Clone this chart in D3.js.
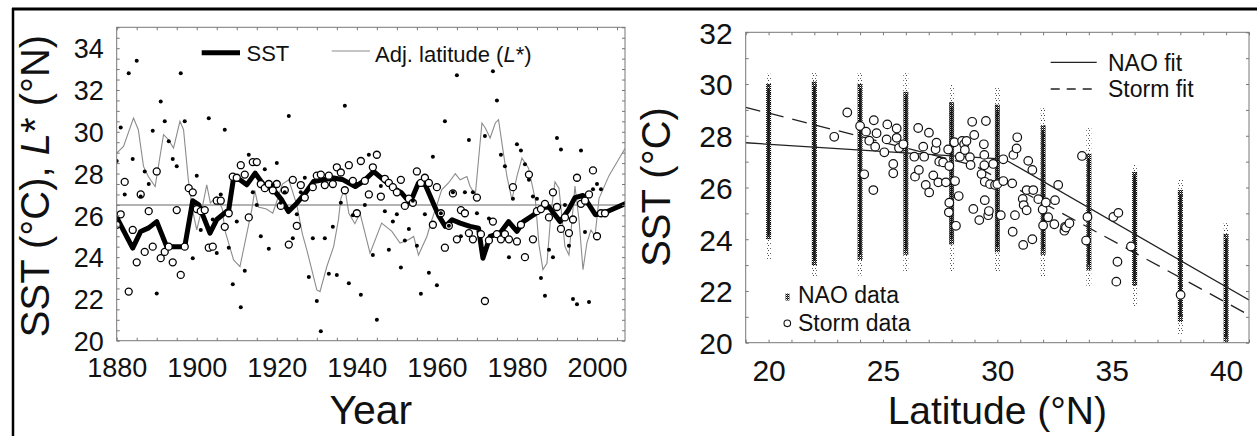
<!DOCTYPE html>
<html><head><meta charset="utf-8">
<script src="https://cdn.jsdelivr.net/npm/d3@7"></script>
<style>
body{margin:0;background:#fff;}
svg{display:block;font-family:"Liberation Sans",Arial,Helvetica,sans-serif;}
</style>
</head><body>
<svg id="c" width="1257" height="436"></svg>
<script>
// ================= LEFT PANEL DATA =================
const leftXTicks = [1880, 1900, 1920, 1940, 1960, 1980, 2000];
const leftYTicks = [20, 22, 24, 26, 28, 30, 32, 34];
const refLevel = 26.5;

// smoothed SST (thick line): [year, SST]
const sstLine = [[1880,25.9],[1884,24.43],[1886,25.23],[1888,25.4],[1890,25.7],[1892.5,24.5],[1897,24.5],[1899,26.7],[1900.5,26.5],
[1903.3,25.15],[1905,25.8],[1908,26.27],[1909.2,27.79],[1910.8,27.7],[1912.5,27.46],[1914.6,28.02],[1916.7,27.46],[1919.2,27.22],
[1921.2,26.75],[1922.9,26.18],[1925,26.58],[1927.1,27.06],[1929.2,27.62],[1931.6,27.7],[1934.2,27.79],[1936.6,27.7],[1939.6,27.38],
[1941.6,27.62],[1944.2,28.1],[1946.7,27.7],[1949.2,27.3],[1951.2,27.07],[1953.3,26.59],[1955.4,27.55],[1957.1,27.46],[1960.4,26.0],
[1962.1,25.47],[1963.8,25.79],[1965.8,25.63],[1968.3,25.47],[1970.4,25.39],[1971.5,23.95],[1973.3,24.99],[1975.8,25.15],[1977.9,25.7],
[1980,25.23],[1981.6,25.7],[1984.2,26.03],[1986.2,26.35],[1987.9,26.42],[1990.8,25.7],[1992.9,26.27],[1994.5,26.85],[1996.5,26.95],
[1999.6,26.03],[2001.6,26.1],[2007,26.55]];

// adjusted latitude L* (thin grey line): [year, degN]
const adjLatLine = [[1880,28.98],[1881.7,29.3],[1884.2,30.66],[1885.4,30.1],[1886.7,28.34],[1887.9,27.86],[1889.6,27.38],[1891.7,29.86],
[1892.9,29.62],[1894.2,29.22],[1895.8,30.5],[1896.7,30.1],[1897.9,27.7],[1899,26.2],[1900,25.3],[1901.4,26.4],[1902.5,27.46],[1903.4,26.6],
[1905,26.9],[1906.4,26.3],[1907,25.3],[1909.2,23.87],[1910.8,23.55],[1913.75,26.27],[1914.5,27.2],[1915.4,26.4],[1917.4,26.3],[1919,26.1],
[1920.4,26.9],[1921.4,27.5],[1923,27.7],[1925,26.5],[1926.4,25.1],[1927.5,24.35],[1930,22.43],[1930.8,22.35],[1932.5,23.55],[1934.2,24.5],
[1935.4,25.79],[1936,26.8],[1937,27.3],[1938,26.1],[1939.5,25.6],[1940.8,26.1],[1943.3,24.19],[1946.2,25.63],[1948.75,25.23],[1950.8,24.67],
[1952.9,24.83],[1954.2,24.99],[1955.4,24.1],[1957.5,24.99],[1958.75,25.79],[1960,26.5],[1961.2,27.22],[1962.9,27.55],[1964.6,28.0],
[1965.8,27.7],[1967.5,27.86],[1968.3,27.38],[1969.6,26.98],[1971.25,30.42],[1972.1,30.18],[1973.3,29.7],[1974.6,30.42],[1975.4,30.58],
[1976.25,29.46],[1977.5,27.86],[1978.75,26.74],[1980,27.86],[1981.25,28.74],[1982.9,28.26],[1984.6,26.74],[1985.5,24.6],[1986.5,23.4],
[1987.5,23.7],[1988.5,26.1],[1989.5,27.6],[1990.5,27.3],[1992,24.5],[1993,24.1],[1994.5,27.4],[1995.5,25.8],[1996.5,23.4],[1997.5,24.7],
[1998.5,25.3],[1999.5,25.0],[2000.5,26.8],[2003,27.9],[2007,29.2]];

// storm latitude (filled dots): [year, degN]
const stormLatDots = [[1880,28.6],[1881,30.2],[1882,27.0],[1883,32.8],[1884,28.7],[1885,33.4],[1886,26.9],[1887,28.1],[1888,27.5],[1889,30.05],
[1890,22.26],[1891,31.45],[1892,30.5],[1893,29.55],[1894,28.7],[1895,28.35],[1896,32.8],[1897,30.5],[1899,23.95],[1900,27.9],
[1901,25.3],[1903,30.65],[1904,25.8],[1905,24.2],[1906,27.0],[1907,30.1],[1908,24.45],[1909,22.7],[1910,25.7],[1911,21.6],
[1912,23.35],[1913,28.9],[1914,27.1],[1915,26.5],[1916,25.0],[1917,28.2],[1918,24.4],[1919,27.45],[1920,28.5],[1921,26.6],
[1922,27.1],[1923,30.75],[1924,24.9],[1925,26.05],[1926,27.1],[1927,27.8],[1928,23.05],[1929,24.9],[1930,21.9],[1931,20.45],
[1932,24.9],[1933,23.2],[1934,25.45],[1935,23.15],[1936,26.6],[1937,31.25],[1938,22.75],[1939,26.0],[1940,27.5],[1941,22.2],
[1942,26.5],[1943,28.9],[1944,24.1],[1945,21.0],[1946,27.4],[1947,26.2],[1948,24.35],[1949,25.7],[1950,26.05],[1951,23.5],
[1952,24.8],[1953,25.35],[1954,26.7],[1955,24.55],[1956,22.25],[1957,26.05],[1958,23.25],[1959,28.8],[1960,22.65],[1961,26.1],
[1962,30.5],[1963,25.5],[1964,27.1],[1965,32.7],[1966,25.0],[1967,27.1],[1968,29.6],[1969,27.1],[1970,26.1],[1972,29.8],
[1973,25.85],[1974,32.9],[1975,31.5],[1976,28.9],[1977,28.35],[1978,24.0],[1979,26.8],[1980,29.4],[1981,29.1],[1982,28.45],
[1983,27.7],[1984,26.9],[1985,26.8],[1986,23.0],[1987,22.15],[1988,24.35],[1989,24.0],[1990,29.7],[1991,29.15],[1992,26.5],
[1993,24.55],[1994,22.0],[1995,21.75],[1996,29.1],[1997,25.2],[1998,21.85],[1999,27.25],[2000,27.5],[2001,27.25]];

// storm SST (open circles): [year, degC]
const stormSSTCircles = [[1880,25.55],[1881,26.05],[1882,27.6],[1883,22.35],[1884,25.3],[1885,23.75],[1886,27.0],[1887,24.25],[1888,26.2],
[1889,24.5],[1890,28.1],[1891,23.95],[1892,24.25],[1893,24.5],[1894,23.75],[1895,26.25],[1896,23.15],[1897,24.5],[1898,27.3],[1899,27.1],
[1900,26.3],[1901,26.2],[1902,26.25],[1903,24.45],[1904,24.5],[1905,26.7],[1906,26.7],[1907,25.45],[1908,26.1],[1909,27.85],[1910,27.8],
[1911,28.4],[1912,27.95],[1913,25.9],[1914,28.55],[1915,28.55],[1916,27.5],[1917,27.3],[1918,27.5],[1919,27.2],[1920,27.5],[1921,26.45],
[1922,27.2],[1923,24.6],[1924,27.7],[1925,25.5],[1926,27.45],[1927,26.85],[1929,27.35],[1930,27.9],[1931,27.95],[1932,27.45],[1933,27.9],
[1934,27.5],[1935,28.3],[1936,28.05],[1937,27.2],[1938,28.4],[1939,27.65],[1940,26.1],[1941,28.6],[1942,27.65],[1943,27.0],[1944,28.3],
[1945,28.9],[1946,26.9],[1947,27.75],[1948,27.55],[1949,27.35],[1950,27.1],[1951,27.7],[1952,26.45],[1953,26.8],[1954,26.6],[1955,28.1],
[1956,27.55],[1957,27.8],[1958,27.55],[1959,25.55],[1960,27.35],[1961,26.1],[1962,24.45],[1963,25.5],[1964,27.05],[1965,24.85],[1966,26.25],
[1967,26.1],[1968,25.15],[1969,24.85],[1970,26.85],[1971,25.1],[1972,21.9],[1973,24.8],[1974,25.7],[1975,25.1],[1976,24.85],[1977,25.1],
[1978,24.85],[1979,27.35],[1980,24.75],[1981,25.55],[1982,24.0],[1983,27.95],[1984,24.85],[1985,26.2],[1986,26.3],[1987,26.55],[1988,25.9],
[1989,27.1],[1990,26.4],[1991,25.35],[1992,25.9],[1993,25.15],[1994,25.8],[1995,27.8],[1996,26.55],[1997,26.7],[1998,27.0],[1999,28.15],
[2000,25.0],[2001,26.1],[2002,26.1]];

// ================= RIGHT PANEL DATA =================
const rightXTicks = [20, 25, 30, 35, 40];
const rightYTicks = [20, 22, 24, 26, 28, 30, 32];

// NAO data columns (range of the dense point clouds at each latitude)
const naoLat    = [20, 22, 24, 26, 28, 30, 32, 34, 36, 38, 40];
const naoMax    = [30.4, 30.5, 30.5, 30.5, 30.0, 29.9, 29.1, 28.3, 26.9, 26.3, 24.7];
const naoCoreHi = [30.0, 30.1, 30.0, 29.7, 29.3, 29.2, 28.4, 27.3, 26.6, 25.9, 24.2];
const naoCoreLo = [24.0, 23.0, 23.2, 23.4, 23.8, 23.5, 23.4, 22.8, 22.2, 20.8, 20.0];
const naoMin    = [23.2, 22.5, 22.6, 22.7, 22.7, 22.7, 22.5, 22.2, 21.4, 20.3, 20.0];

// storm data: [latitude, SST]
const stormPoints = [[22.87,27.96],[23.44,28.9],[24.0,28.38],[24.26,28.16],[24.4,27.81],[24.6,28.6],[24.72,28.1],[24.66,27.58],[24.18,26.51],
[24.58,25.9],[25.06,27.36],[25.16,27.86],[25.19,28.44],[25.45,26.91],[25.45,26.55],[25.6,28.28],[25.6,27.92],[25.7,27.53],[25.89,27.67],
[26.37,27.19],[26.4,26.42],[26.54,28.3],[26.57,26.68],[26.76,27.58],[26.8,27.19],[26.87,26.1],[27.01,28.12],[27.02,25.81],[27.2,26.47],
[27.3,27.48],[27.34,27.73],[27.42,26.2],[27.46,27.0],[27.63,26.97],[27.75,26.2],[27.85,27.47],[27.9,26.83],[27.9,25.41],[27.88,25.04],
[28.19,24.52],[28.12,27.75],[28.15,26.25],[28.31,25.67],[28.36,27.19],[28.46,27.8],[28.55,27.67],[28.58,27.45],[28.65,27.8],[28.8,27.17],
[28.83,26.87],[28.9,28.54],[28.99,28.03],[28.95,25.17],[29.21,24.74],[29.31,26.52],[29.41,27.67],[29.43,27.26],[29.5,28.57],[29.43,26.86],
[29.45,26.22],[29.6,24.93],[29.63,25.09],[29.45,25.51],[29.68,26.13],[29.82,26.91],[29.9,26.1],[30.0,26.13],[30.15,24.93],
[30.26,27.09],[30.26,26.25],[30.65,26.16],[30.7,27.26],[30.84,27.51],[30.87,27.94],[30.77,24.93],[30.67,24.29],[31.13,23.78],[31.11,25.56],
[31.15,25.32],[31.28,25.9],[31.28,25.12],[31.35,27.03],[31.53,26.68],[31.57,25.9],[31.53,24.0],[31.79,25.55],[31.98,25.15],[32.0,24.53],
[32.12,25.42],[32.22,24.85],[32.49,24.58],[32.52,25.51],[32.66,26.1],[32.93,24.33],[32.96,24.48],[33.0,24.45],[33.15,24.62],[33.7,27.22],
[33.88,23.95],[33.94,24.86],[35.07,24.86],[35.29,25.02],[35.25,23.13],[35.2,22.36],[35.84,23.72],[38.01,21.85]];

// fitted lines: [latitude, SST]
const naoFit   = [[19, 27.73], [30.3, 27.1], [41, 21.65]];
const stormFit = [[19, 29.1], [29, 26.85], [41, 21.07]];

// ================= DRAWING =================
const svg = d3.select("#c");
const defs = svg.append("defs");
const INK = "#111";

// speckle textures for the NAO point clouds
const pD = defs.append("pattern").attr("id","speckDense").attr("patternUnits","userSpaceOnUse").attr("width",2).attr("height",2);
pD.append("rect").attr("x",0).attr("y",0).attr("width",1).attr("height",1).attr("fill","#000");
pD.append("rect").attr("x",1).attr("y",1).attr("width",1).attr("height",1).attr("fill","#222");
pD.append("rect").attr("x",1).attr("y",0).attr("width",1).attr("height",1).attr("fill","#666");
const pS = defs.append("pattern").attr("id","speckSparse").attr("patternUnits","userSpaceOnUse").attr("width",3).attr("height",5);
pS.append("rect").attr("x",0).attr("y",0).attr("width",1).attr("height",1).attr("fill","#444");
pS.append("rect").attr("x",2).attr("y",3).attr("width",1).attr("height",1).attr("fill","#666");

// outer figure frame
svg.append("line").attr("x1",12).attr("x2",1257).attr("y1",9).attr("y2",9).attr("stroke","#000").attr("stroke-width",3);
svg.append("line").attr("x1",13).attr("x2",13).attr("y1",8).attr("y2",436).attr("stroke","#000").attr("stroke-width",2.5);

function frameAndTicks(g, x, y, xMinor, yMinor) {
  const [xa, xb] = x.range(), [yb, ya] = y.range();
  const tick = (axis, tr) => {
    const a = g.append("g").attr("transform", tr).call(axis);
    a.select(".domain").remove();
    a.selectAll("line").attr("stroke","#777").attr("stroke-width",1);
  };
  tick(d3.axisBottom(x).tickValues(xMinor).tickSizeInner(-3).tickSizeOuter(0).tickFormat(""), `translate(0,${yb})`);
  tick(d3.axisTop(x).tickValues(xMinor).tickSizeInner(-3).tickSizeOuter(0).tickFormat(""), `translate(0,${ya})`);
  tick(d3.axisLeft(y).tickValues(yMinor).tickSizeInner(-3).tickSizeOuter(0).tickFormat(""), `translate(${xa},0)`);
  tick(d3.axisRight(y).tickValues(yMinor).tickSizeInner(-3).tickSizeOuter(0).tickFormat(""), `translate(${xb},0)`);
  g.append("rect").attr("x",xa).attr("y",ya).attr("width",xb-xa).attr("height",yb-ya)
    .attr("fill","none").attr("stroke","#777").attr("stroke-width",1);
}
function labels(g, x, y, xt, yt, fs, xBase, yGap) {
  const [xa] = x.range(), [yb] = y.range();
  const ax = g.append("g").attr("transform",`translate(0,${yb})`)
    .call(d3.axisBottom(x).tickValues(xt).tickSize(0).tickFormat(d3.format("d")));
  ax.select(".domain").remove();
  ax.selectAll("text").attr("dy",null).attr("y",xBase).attr("fill",INK).attr("font-size",fs).attr("font-family",null);
  const ay = g.append("g").attr("transform",`translate(${xa},0)`)
    .call(d3.axisLeft(y).tickValues(yt).tickSize(0).tickFormat(d3.format("d")));
  ay.select(".domain").remove();
  ay.selectAll("text").attr("dy","0.36em").attr("x",-yGap).attr("fill",INK).attr("font-size",fs).attr("font-family",null);
}

// ---------- LEFT ----------
const xL = d3.scaleLinear().domain([1880, 2007]).range([116.7, 625]);
const yL = d3.scaleLinear().domain([20, 35]).range([340.7, 27.3]);
const gL = svg.append("g");
defs.append("clipPath").attr("id","clipL").append("rect")
  .attr("x",xL.range()[0]).attr("y",yL.range()[1]).attr("width",xL.range()[1]-xL.range()[0]).attr("height",yL.range()[0]-yL.range()[1]);
const pL = gL.append("g").attr("clip-path","url(#clipL)");

pL.append("line").attr("x1",xL(1880)).attr("x2",xL(2007)).attr("y1",yL(refLevel)).attr("y2",yL(refLevel))
  .attr("stroke","#9a9a9a").attr("stroke-width",1.5);
pL.append("path").datum(adjLatLine)
  .attr("d", d3.line().x(d=>xL(d[0])).y(d=>yL(d[1])))
  .attr("fill","none").attr("stroke","#8c8c8c").attr("stroke-width",1.1);
pL.append("path").datum(sstLine)
  .attr("d", d3.line().x(d=>xL(d[0])).y(d=>yL(d[1])))
  .attr("fill","none").attr("stroke","#000").attr("stroke-width",5).attr("stroke-linejoin","round").attr("stroke-linecap","round");
pL.selectAll("circle.o").data(stormSSTCircles).join("circle").attr("class","o")
  .attr("cx",d=>xL(d[0])).attr("cy",d=>yL(d[1])).attr("r",3.5)
  .attr("fill","#fff").attr("stroke","#000").attr("stroke-width",1.3);
pL.selectAll("circle.d").data(stormLatDots).join("circle").attr("class","d")
  .attr("cx",d=>xL(d[0])).attr("cy",d=>yL(d[1])).attr("r",2)
  .attr("fill","#000");

frameAndTicks(gL, xL, yL, d3.range(1880, 2008, 5), d3.range(20, 35.01, 0.5));
labels(gL, xL, yL, leftXTicks, leftYTicks, 27, 36, 13);

// left legend
gL.append("line").attr("x1",201.7).attr("x2",240).attr("y1",52.7).attr("y2",52.7).attr("stroke","#000").attr("stroke-width",5);
gL.append("text").attr("x",246.5).attr("y",60.7).attr("font-size",22).attr("fill",INK).text("SST");
gL.append("line").attr("x1",331.7).attr("x2",370).attr("y1",51).attr("y2",51).attr("stroke","#8c8c8c").attr("stroke-width",1.1);
const lt = gL.append("text").attr("x",375).attr("y",61.5).attr("font-size",22).attr("fill",INK);
lt.append("tspan").text("Adj. latitude (");
lt.append("tspan").attr("font-style","italic").text("L");
lt.append("tspan").text("*)");

// left titles
const yt = gL.append("text").attr("transform","translate(49,186) rotate(-90)").attr("text-anchor","middle")
  .attr("font-size",40).attr("fill",INK);
yt.append("tspan").text("SST (°C), ");
yt.append("tspan").attr("font-style","italic").text("L");
yt.append("tspan").text("* (°N)");
gL.append("text").attr("x",(xL.range()[0]+xL.range()[1])/2).attr("y",424).attr("text-anchor","middle")
  .attr("font-size",41).attr("fill",INK).text("Year");

// ---------- RIGHT ----------
const xR = d3.scaleLinear().domain([19, 41]).range([745.7, 1249]);
const yR = d3.scaleLinear().domain([20, 32]).range([342.7, 32.3]);
const gR = svg.append("g");
defs.append("clipPath").attr("id","clipR").append("rect")
  .attr("x",xR.range()[0]).attr("y",yR.range()[1]).attr("width",xR.range()[1]-xR.range()[0]).attr("height",yR.range()[0]-yR.range()[1]);
const pR = gR.append("g").attr("clip-path","url(#clipR)");

const cols = naoLat.map((lat,i)=>({lat, max:naoMax[i], hi:naoCoreHi[i], lo:naoCoreLo[i], min:naoMin[i]}));
pR.selectAll("rect.sp").data(cols).join("rect").attr("class","sp")
  .attr("x",d=>xR(d.lat)-2.5).attr("width",5).attr("y",d=>yR(d.max)).attr("height",d=>yR(d.min)-yR(d.max))
  .attr("fill","url(#speckSparse)");
pR.selectAll("rect.dn").data(cols).join("rect").attr("class","dn")
  .attr("x",d=>xR(d.lat)-2.5).attr("width",5).attr("y",d=>yR(d.hi)).attr("height",d=>yR(d.lo)-yR(d.hi))
  .attr("fill","url(#speckDense)");
pR.selectAll("rect.core").data(cols).join("rect").attr("class","core")
  .attr("x",d=>xR(d.lat)-1).attr("width",2).attr("y",d=>yR(d.hi)+5).attr("height",d=>Math.max(0,yR(d.lo)-yR(d.hi)-10))
  .attr("fill","#1a1a1a");

const fitLine = d3.line().x(d=>xR(d[0])).y(d=>yR(d[1]));
pR.append("path").datum(naoFit).attr("d",fitLine).attr("fill","none").attr("stroke","#222").attr("stroke-width",1.3);
pR.append("path").datum(stormFit).attr("d",fitLine).attr("fill","none").attr("stroke","#222").attr("stroke-width",1.3)
  .attr("stroke-dasharray","15,9");

pR.selectAll("circle.s").data(stormPoints).join("circle").attr("class","s")
  .attr("cx",d=>xR(d[0])).attr("cy",d=>yR(d[1])).attr("r",4.3)
  .attr("fill","#fff").attr("stroke","#111").attr("stroke-width",1.2);

frameAndTicks(gR, xR, yR, d3.range(19, 41.01, 1), d3.range(20, 32.01, 1));
labels(gR, xR, yR, rightXTicks, rightYTicks, 30, 38.5, 13);

// right legends
gR.append("line").attr("x1",1050.7).attr("x2",1096.7).attr("y1",62.3).attr("y2",62.3).attr("stroke","#222").attr("stroke-width",1.3);
gR.append("text").attr("x",1108).attr("y",70.7).attr("font-size",23).attr("fill",INK).text("NAO fit");
gR.append("line").attr("x1",1050.7).attr("x2",1096.7).attr("y1",89).attr("y2",89).attr("stroke","#222").attr("stroke-width",1.3)
  .attr("stroke-dasharray","9,7");
gR.append("text").attr("x",1108).attr("y",97.4).attr("font-size",23).attr("fill",INK).text("Storm fit");

gR.append("rect").attr("x",785.5).attr("y",293.5).attr("width",4).attr("height",7).attr("fill","url(#speckDense)");
gR.append("text").attr("x",798).attr("y",303.3).attr("font-size",23).attr("fill",INK).text("NAO data");
gR.append("circle").attr("cx",787.3).attr("cy",323.3).attr("r",3.3).attr("fill","#fff").attr("stroke","#111").attr("stroke-width",1.1);
gR.append("text").attr("x",798).attr("y",330.5).attr("font-size",23).attr("fill",INK).text("Storm data");

// right titles
gR.append("text").attr("transform","translate(670,187) rotate(-90)").attr("text-anchor","middle")
  .attr("font-size",40).attr("fill",INK).text("SST (°C)");
gR.append("text").attr("x",(xR.range()[0]+xR.range()[1])/2).attr("y",424).attr("text-anchor","middle")
  .attr("font-size",39).attr("fill",INK).text("Latitude (°N)");
</script>
</body></html>
